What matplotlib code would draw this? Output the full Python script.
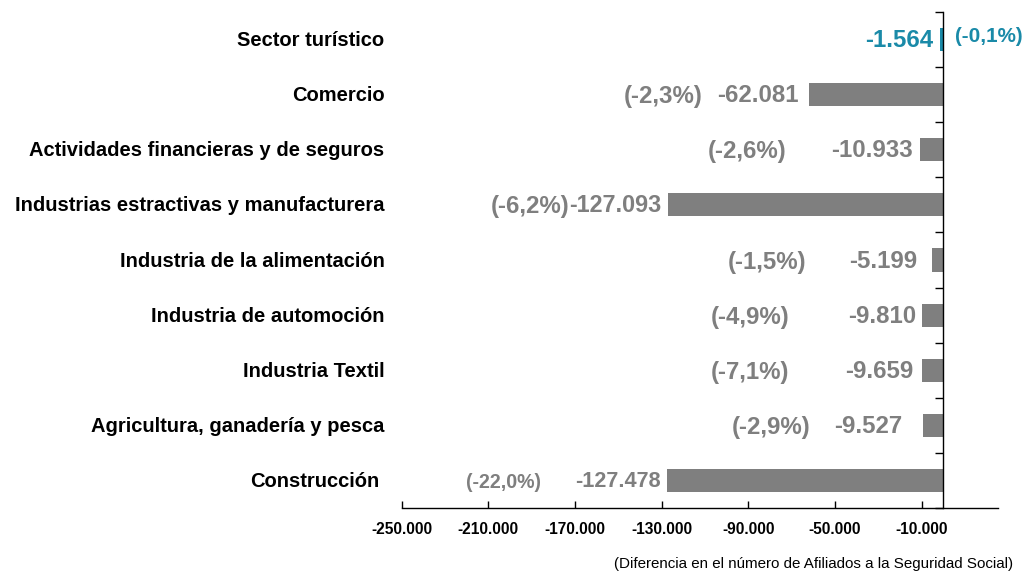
import matplotlib.pyplot as plt
import numpy as np

sectores = ["Sector turístico", "Comercio", "Actividades financieras y de seguros",
            "Industrias estractivas y manufacturera", "Industria de la alimentación",
            "Industria de automoción", "Industria Textil",
            "Agricultura, ganadería y pesca", "Construcción"]
diferencia = [-1564, -62081, -10933, -127093, -5199, -9810, -9659, -9527, -127478]
porcentaje = [-0.1, -2.3, -2.6, -6.2, -1.5, -4.9, -7.1, -2.9, -22.0]
xticks = list(range(-250000, 0, 40000))

gris = "#7f7f7f"
teal = "#1a8aa8"

def miles(v):
    return "{:,}".format(v).replace(",", ".")

def pct(p):
    return "({:.1f}%)".format(p).replace(".", ",")

# label spacing (pixels) left of each bar end
gap_valor = [7, 10, 7, 7, 15, 6, 9, 20, 6]
gap_pct = [0, 106, 133, 98, 126, 133, 133, 112, 126]

plt.rcParams['font.family'] = ['Liberation Sans', 'DejaVu Sans']

fig = plt.figure(figsize=(10.26, 5.73), dpi=100)
ax = fig.add_axes([0.3914, 0.1134, 0.5809, 0.8656])

y = np.arange(len(sectores))
colores = [teal] + [gris] * (len(sectores) - 1)
ax.barh(y, diferencia, height=0.42, color=colores, zorder=2)

ax.set_xlim(-250000, 25000)
ax.set_ylim(len(sectores) - 0.5, -0.5)

ax.spines['top'].set_visible(False)
ax.spines['right'].set_visible(False)
ax.spines['left'].set_position(('data', 0))
ax.spines['bottom'].set_linewidth(1)
ax.spines['left'].set_linewidth(1)

ax.set_xticks(xticks)
ax.set_xticklabels([miles(t) for t in xticks], fontsize=11.2, fontweight='bold')
ax.tick_params(axis='x', direction='in', length=5, pad=10, width=1)

ax.set_yticks(np.arange(len(sectores) + 1) - 0.5)
ax.set_yticklabels([])
ax.tick_params(axis='y', direction='out', length=6, width=1)

for i, nombre in enumerate(sectores):
    dx = -22 if i == len(sectores) - 1 else -17
    ax.annotate(nombre, xy=(0, i), xycoords=ax.get_yaxis_transform(),
                xytext=(dx, -1), textcoords='offset pixels',
                ha='right', va='center', fontsize=14.5, fontweight='bold')

for i, (v, p) in enumerate(zip(diferencia, porcentaje)):
    c = teal if i == 0 else gris
    fs = {0: 14.9, 8: 14.1}.get(i, 17.3)
    fv = {3: 16.8, 8: 15.6}.get(i, 17.3)
    ax.annotate(miles(v), xy=(v, i), xytext=(-gap_valor[i], -1),
                textcoords='offset pixels', ha='right', va='center',
                fontsize=fv, fontweight='bold', color=c)
    if i == 0:
        ax.annotate(pct(p), xy=(0, i), xytext=(12, 3),
                    textcoords='offset pixels', ha='left', va='center',
                    fontsize=fs, fontweight='bold', color=c)
    else:
        ax.annotate(pct(p), xy=(v, i), xytext=(-gap_pct[i], -2),
                    textcoords='offset pixels', ha='right', va='center',
                    fontsize=fs, fontweight='bold', color=c)

fig.text(0.987, 0.003, "(Diferencia en el número de Afiliados a la Seguridad Social)",
         ha='right', va='bottom', fontsize=10.9)

fig.savefig("out.png", dpi=100)
